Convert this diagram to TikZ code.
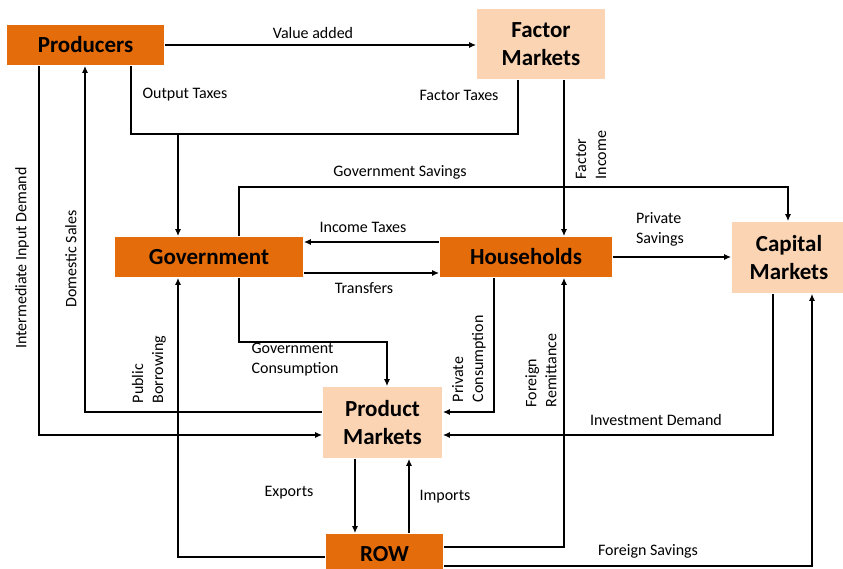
\documentclass[tikz,border=0pt]{standalone}
\usepackage{fontspec}
\setmainfont{Carlito}
\usetikzlibrary{arrows.meta}

\definecolor{darkorange}{RGB}{228,108,10}
\definecolor{peach}{RGB}{251,212,180}

\begin{document}
\begin{tikzpicture}[x=1pt, y=-1pt, line width=1.6pt,
        every node/.style={font=\fontsize{16}{20}\selectfont},
        agent/.style={fill=darkorange, inner sep=0, font=\fontsize{23}{28}\selectfont\bfseries},
        market/.style={fill=peach, inner sep=0, align=center, font=\fontsize{23}{28}\selectfont\bfseries},
        flow/.style={-{Latex[length=7pt,width=6pt]}},
        side/.style={rotate=90, align=left, anchor=west, inner sep=0}]

        \clip (0,0) rectangle (843,569);

        \node[agent, minimum width=157pt, minimum height=40pt] (prod) at (85.5,45) {Producers};
        \node[market, minimum width=128pt, minimum height=70pt] (fact) at (541,44) {Factor\\Markets};
        \node[agent, minimum width=188pt, minimum height=40pt] (gov) at (209,257) {Government};
        \node[agent, minimum width=172pt, minimum height=40pt] (hh) at (526,257) {Households};
        \node[market, minimum width=114pt, minimum height=71pt] (cap) at (789,257.5) {Capital\\Markets};
        \node[market, minimum width=119pt, minimum height=71pt] (pm) at (382.5,422.5) {Product\\Markets};
        \node[agent, minimum width=117pt, minimum height=40pt] (row) at (384.5,554) {ROW};

        % bends of the flows
        \coordinate (tl) at (131,134);
        \coordinate (tm) at (178,134);
        \coordinate (tr) at (518,134);
        \coordinate (fi) at (564,160);
        \coordinate (gsl) at (239,187);
        \coordinate (gsr) at (788,187);
        \coordinate (it) at (370,242);
        \coordinate (tf) at (370,273);
        \coordinate (gcl) at (239,342);
        \coordinate (gcr) at (387,342);
        \coordinate (pcr) at (494,412);
        \coordinate (dsl) at (85,412);
        \coordinate (iil) at (39,435);
        \coordinate (idr) at (773,435);
        \coordinate (ex) at (355,500);
        \coordinate (im) at (409,500);
        \coordinate (frr) at (564,547);
        \coordinate (pbl) at (178,557);
        \coordinate (fsr) at (812,566);

        \draw[flow] (prod.east) -- (prod.east -| fact.west);
        \draw (prod.south -| tl) -- (tl) -- (tr) -- (fact.south -| tr);
        \draw[flow] (tm) -- (gov.north -| tm);
        \draw[flow] (fact.south -| fi) -- (hh.north -| fi);
        \draw[flow] (gov.north -| gsl) -- (gsl) -- (gsr) -- (cap.north -| gsr);
        \draw[flow] (hh.west |- it) -- (gov.east |- it);
        \draw[flow] (gov.east |- tf) -- (hh.west |- tf);
        \draw[flow] (hh.east) -- (cap.west |- hh.east);
        \draw[flow] (gov.south -| gcl) -- (gcl) -- (gcr) -- (pm.north -| gcr);
        \draw[flow] (hh.south -| pcr) -- (pcr) -- (pm.east |- pcr);
        \draw[flow] (cap.south -| idr) -- (idr) -- (pm.east |- idr);
        \draw[flow] (pm.south -| ex) -- (row.north -| ex);
        \draw[flow] (row.north -| im) -- (pm.south -| im);
        \draw[flow] (row.east |- frr) -- (frr) -- (hh.south -| frr);
        \draw[flow] (row.east |- fsr) -- (fsr) -- (cap.south -| fsr);
        \draw[flow] (row.west |- pbl) -- (pbl) -- (gov.south -| pbl);
        \draw[flow] (pm.west |- dsl) -- (dsl) -- (prod.south -| dsl);
        \draw[flow] (prod.south -| iil) -- (iil) -- (pm.west |- iil);

        \node (vadd) at (313,33) {Value added};
        \node (otax) at (185,95) {Output Taxes};
        \node (ftax) at (459,95) {Factor Taxes};
        \node[side] (finc) at (591,180) {Factor\\Income};
        \node (gsav) at (400,172) {Government Savings};
        \node (itax) at (363,227) {Income Taxes};
        \node (trans) at (364,288) {Transfers};
        \node[align=left] (psav) at (660,229) {Private\\Savings};
        \node[align=left] (gcons) at (295,360) {Government\\Consumption};
        \node[side] (pcons) at (469,403) {Private\\Consumption};
        \node[side] (frem) at (541,408) {Foreign\\Remittance};
        \node[side] (pbor) at (149,404) {Public\\Borrowing};
        \node[rotate=90] (dsal) at (71,259) {Domestic Sales};
        \node[rotate=90] (iid) at (22,258) {Intermediate Input Demand};
        \node (idem) at (656,420) {Investment Demand};
        \node (fsav) at (648,551) {Foreign Savings};
        \node (expo) at (289,493) {Exports};
        \node (impo) at (445,497) {Imports};

    \end{tikzpicture}
\end{document}
